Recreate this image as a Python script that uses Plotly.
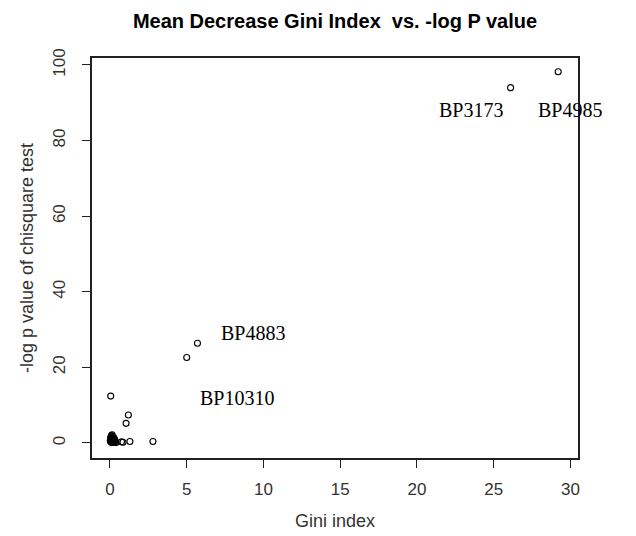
import plotly.graph_objects as go

# Data
gini = [29.2, 26.1, 5.7, 5.0, 0.05, 1.2, 1.05, 2.8, 1.3, 0.85, 0.75,
        0.05, 0.1, 0.15, 0.2, 0.1, 0.25, 0.3, 0.05, 0.2, 0.15, 0.35, 0.1, 0.25, 0.05,
        0.12, 0.18, 0.08, 0.22, 0.28, 0.02, 0.14, 0.06, 0.3, 0.2, 0.1, 0.4]
neglogp = [98.2, 94.0, 26.4, 22.6, 12.4, 7.4, 5.2, 0.4, 0.4, 0.2, 0.3,
           0.3, 0.8, 1.2, 1.6, 2.0, 0.5, 1.0, 1.5, 0.2, 0.6, 0.4, 1.8, 1.4, 0.9,
           0.1, 0.7, 1.1, 0.9, 0.2, 0.6, 2.2, 1.3, 0.6, 1.2, 0.4, 0.1]

label_text = ["BP3173", "BP4985", "BP4883", "BP10310"]
label_x = [23.5, 30.0, 9.3, 8.3]
label_y = [88.0, 88.0, 29.2, 12.0]

x_ticks = [0, 5, 10, 15, 20, 25, 30]
y_ticks = [0, 20, 40, 60, 80, 100]

fig = go.Figure()
fig.add_trace(go.Scatter(
    x=gini, y=neglogp, mode="markers",
    marker=dict(symbol="circle-open", size=6, color="black", line=dict(width=1.1, color="black")),
    cliponaxis=False, showlegend=False,
))

for t, xx, yy in zip(label_text, label_x, label_y):
    fig.add_annotation(x=xx, y=yy, xref="x", yref="y", text=t, showarrow=False,
                       font=dict(family="Liberation Serif", size=20, color="black"))

axis_common = dict(
    showline=True, mirror=True, linecolor="#222", linewidth=1.5,
    ticks="outside", ticklen=8, tickwidth=1, tickcolor="#222",
    showgrid=False, zeroline=False,
    tickfont=dict(family="Liberation Sans", size=17, color="#333"),
)

fig.update_layout(
    width=636, height=536,
    margin=dict(l=84, r=66, t=50, b=86),
    paper_bgcolor="white", plot_bgcolor="white",
    title=dict(text="<b>Mean Decrease Gini Index  vs. -log P value</b>",
               x=0.5, xref="paper", xanchor="center",
               y=1 - 13 / 536, yref="container", yanchor="middle",
               font=dict(family="Liberation Sans", size=20, color="black")),
    xaxis=dict(range=[-1.17, 30.49], tickvals=x_ticks,
               title=dict(text="Gini index", standoff=16,
                          font=dict(family="Liberation Sans", size=18, color="#333")),
               ticklabelstandoff=7, **axis_common),
    yaxis=dict(range=[-3.97, 101.85], tickvals=y_ticks, tickangle=-90,
               title=dict(text="-log p value of chisquare test", standoff=12,
                          font=dict(family="Liberation Sans", size=18, color="#333")),
               ticklabelstandoff=10, **axis_common),
)

fig.write_html("out.html")
